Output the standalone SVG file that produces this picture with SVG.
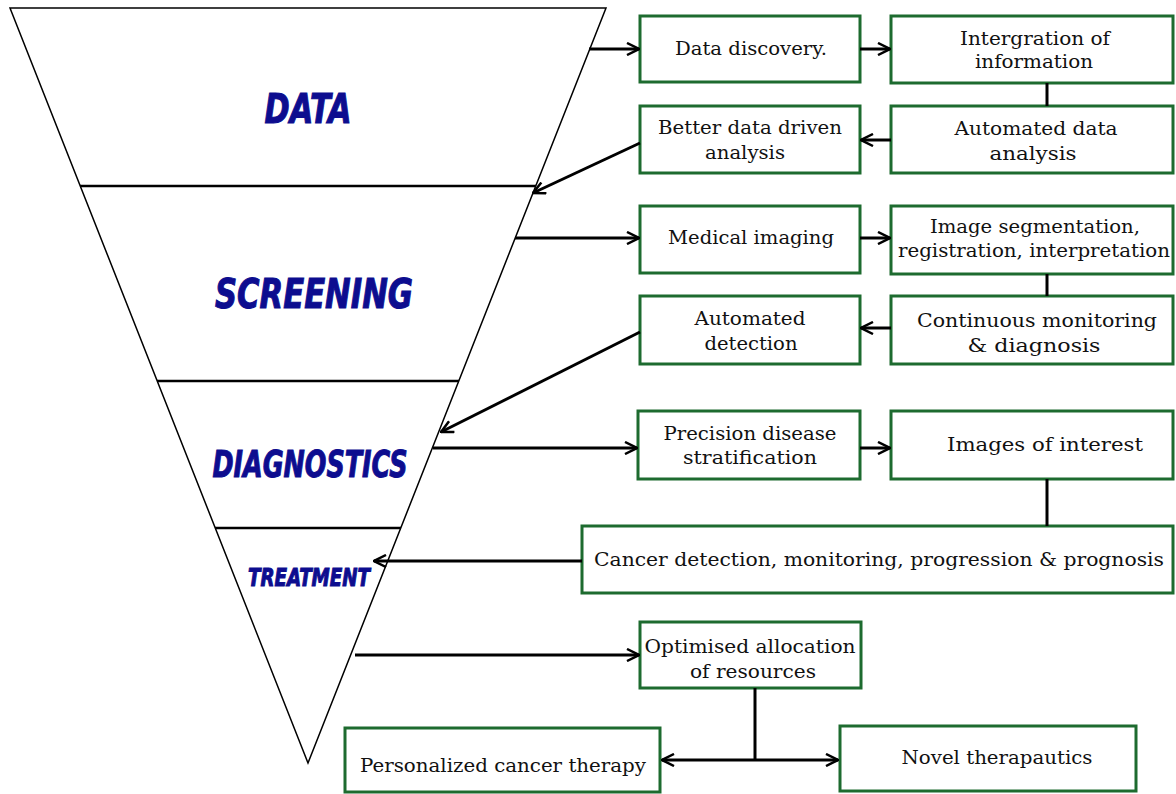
<svg xmlns="http://www.w3.org/2000/svg" width="1176" height="794" viewBox="0 0 1176 794">
<style>
.box{fill:#fff;stroke:#1d6b2f;stroke-width:3}
.t{font-family:"DejaVu Serif","Liberation Serif",serif;font-size:18px;fill:#111;text-anchor:middle}
.ttl{font-family:"DejaVu Sans Condensed","DejaVu Sans",sans-serif;font-weight:bold;font-style:italic;fill:#0d0d8f;stroke:#0d0d8f;stroke-width:1;text-anchor:middle}
.c{stroke:#000;stroke-width:3;fill:none}
.a{marker-end:url(#ah)}
.div{stroke:#000;stroke-width:2.5}
</style>
<defs>
<marker id="ah" viewBox="0 0 14 14" refX="13" refY="7" markerWidth="14" markerHeight="14" markerUnits="userSpaceOnUse" orient="auto">
<path d="M1,1 L13,7 L1,13" fill="none" stroke="#000" stroke-width="2.5"/>
</marker>
</defs>
<rect width="1176" height="794" fill="#fff"/>
<g id="funnel">
<polygon points="10,8 606,8 308,763" fill="#fff" stroke="#000" stroke-width="1.5"/>
<line class="div" x1="80" y1="186" x2="536" y2="186"/>
<line class="div" x1="157" y1="381" x2="459" y2="381"/>
<line class="div" x1="215" y1="528" x2="401" y2="528"/>
<text class="ttl" x="308" y="123" font-size="41" textLength="87" lengthAdjust="spacingAndGlyphs">DATA</text>
<text class="ttl" x="314" y="308" font-size="41" textLength="198" lengthAdjust="spacingAndGlyphs">SCREENING</text>
<text class="ttl" x="310" y="477" font-size="37" textLength="195" lengthAdjust="spacingAndGlyphs">DIAGNOSTICS</text>
<text class="ttl" x="309" y="586" font-size="25" textLength="122" lengthAdjust="spacingAndGlyphs">TREATMENT</text>
</g>
<g id="n-data-discovery"><rect class="box" x="640" y="16" width="220" height="66"/><text class="t" x="751" y="55" textLength="152" lengthAdjust="spacingAndGlyphs">Data discovery.</text></g>
<g id="n-integration"><rect class="box" x="891" y="16" width="282" height="67"/><text class="t" x="1035" y="45" textLength="150" lengthAdjust="spacingAndGlyphs">Intergration of</text><text class="t" x="1034" y="68" textLength="118" lengthAdjust="spacingAndGlyphs">information</text></g>
<g id="n-better"><rect class="box" x="640" y="106" width="220" height="67"/><text class="t" x="750" y="134" textLength="184" lengthAdjust="spacingAndGlyphs">Better data driven</text><text class="t" x="745" y="159" textLength="80" lengthAdjust="spacingAndGlyphs">analysis</text></g>
<g id="n-automated-data"><rect class="box" x="891" y="106" width="282" height="67"/><text class="t" x="1036" y="135" textLength="163" lengthAdjust="spacingAndGlyphs">Automated data</text><text class="t" x="1033" y="160" textLength="87" lengthAdjust="spacingAndGlyphs">analysis</text></g>
<g id="n-medical"><rect class="box" x="640" y="206" width="220" height="67"/><text class="t" x="751" y="244" textLength="166" lengthAdjust="spacingAndGlyphs">Medical imaging</text></g>
<g id="n-segmentation"><rect class="box" x="891" y="206" width="282" height="68"/><text class="t" x="1035" y="233" textLength="210" lengthAdjust="spacingAndGlyphs">Image segmentation,</text><text class="t" x="1034" y="257" textLength="272" lengthAdjust="spacingAndGlyphs">registration, interpretation</text></g>
<g id="n-auto-detect"><rect class="box" x="640" y="296" width="220" height="68"/><text class="t" x="750" y="325" textLength="111" lengthAdjust="spacingAndGlyphs">Automated</text><text class="t" x="751" y="350" textLength="93" lengthAdjust="spacingAndGlyphs">detection</text></g>
<g id="n-continuous"><rect class="box" x="891" y="296" width="282" height="68"/><text class="t" x="1037" y="327" textLength="240" lengthAdjust="spacingAndGlyphs">Continuous monitoring</text><text class="t" x="1034" y="352" textLength="133" lengthAdjust="spacingAndGlyphs">&amp; diagnosis</text></g>
<g id="n-precision"><rect class="box" x="638" y="411" width="222" height="68"/><text class="t" x="750" y="440" textLength="173" lengthAdjust="spacingAndGlyphs">Precision disease</text><text class="t" x="750" y="464" textLength="134" lengthAdjust="spacingAndGlyphs">stratification</text></g>
<g id="n-images"><rect class="box" x="891" y="411" width="282" height="68"/><text class="t" x="1045" y="451" textLength="196" lengthAdjust="spacingAndGlyphs">Images of interest</text></g>
<g id="n-cancer"><rect class="box" x="582" y="526" width="591" height="67"/><text class="t" x="879" y="566" textLength="570" lengthAdjust="spacingAndGlyphs">Cancer detection, monitoring, progression &amp; prognosis</text></g>
<g id="n-optimised"><rect class="box" x="640" y="622" width="221" height="66"/><text class="t" x="750" y="653" textLength="211" lengthAdjust="spacingAndGlyphs">Optimised allocation</text><text class="t" x="753" y="678" textLength="126" lengthAdjust="spacingAndGlyphs">of resources</text></g>
<g id="n-personalized"><rect class="box" x="345" y="728" width="315" height="64"/><text class="t" x="503" y="772" textLength="286" lengthAdjust="spacingAndGlyphs">Personalized cancer therapy</text></g>
<g id="n-novel"><rect class="box" x="840" y="726" width="296" height="65"/><text class="t" x="997" y="764" textLength="191" lengthAdjust="spacingAndGlyphs">Novel therapautics</text></g>
<g id="connectors">
<line class="c a" x1="589" y1="49" x2="639" y2="49"/>
<line class="c a" x1="860" y1="49" x2="890" y2="49"/>
<line class="c" x1="1047" y1="83" x2="1047" y2="106"/>
<line class="c a" x1="891" y1="140" x2="861" y2="140"/>
<line class="c a" x1="640" y1="143" x2="533" y2="193"/>
<line class="c a" x1="515" y1="238" x2="639" y2="238"/>
<line class="c a" x1="860" y1="238" x2="890" y2="238"/>
<line class="c" x1="1047" y1="274" x2="1047" y2="296"/>
<line class="c a" x1="891" y1="328" x2="861" y2="328"/>
<line class="c a" x1="640" y1="332" x2="441" y2="432"/>
<line class="c a" x1="433" y1="448" x2="637" y2="448"/>
<line class="c a" x1="860" y1="448" x2="890" y2="448"/>
<line class="c" x1="1047" y1="479" x2="1047" y2="526"/>
<line class="c a" x1="582" y1="561" x2="374" y2="561"/>
<line class="c a" x1="355" y1="655" x2="639" y2="655"/>
<line class="c" x1="755" y1="688" x2="755" y2="760"/>
<line class="c a" x1="755" y1="760" x2="662" y2="760"/>
<line class="c a" x1="755" y1="760" x2="838" y2="760"/>
</g>
</svg>
